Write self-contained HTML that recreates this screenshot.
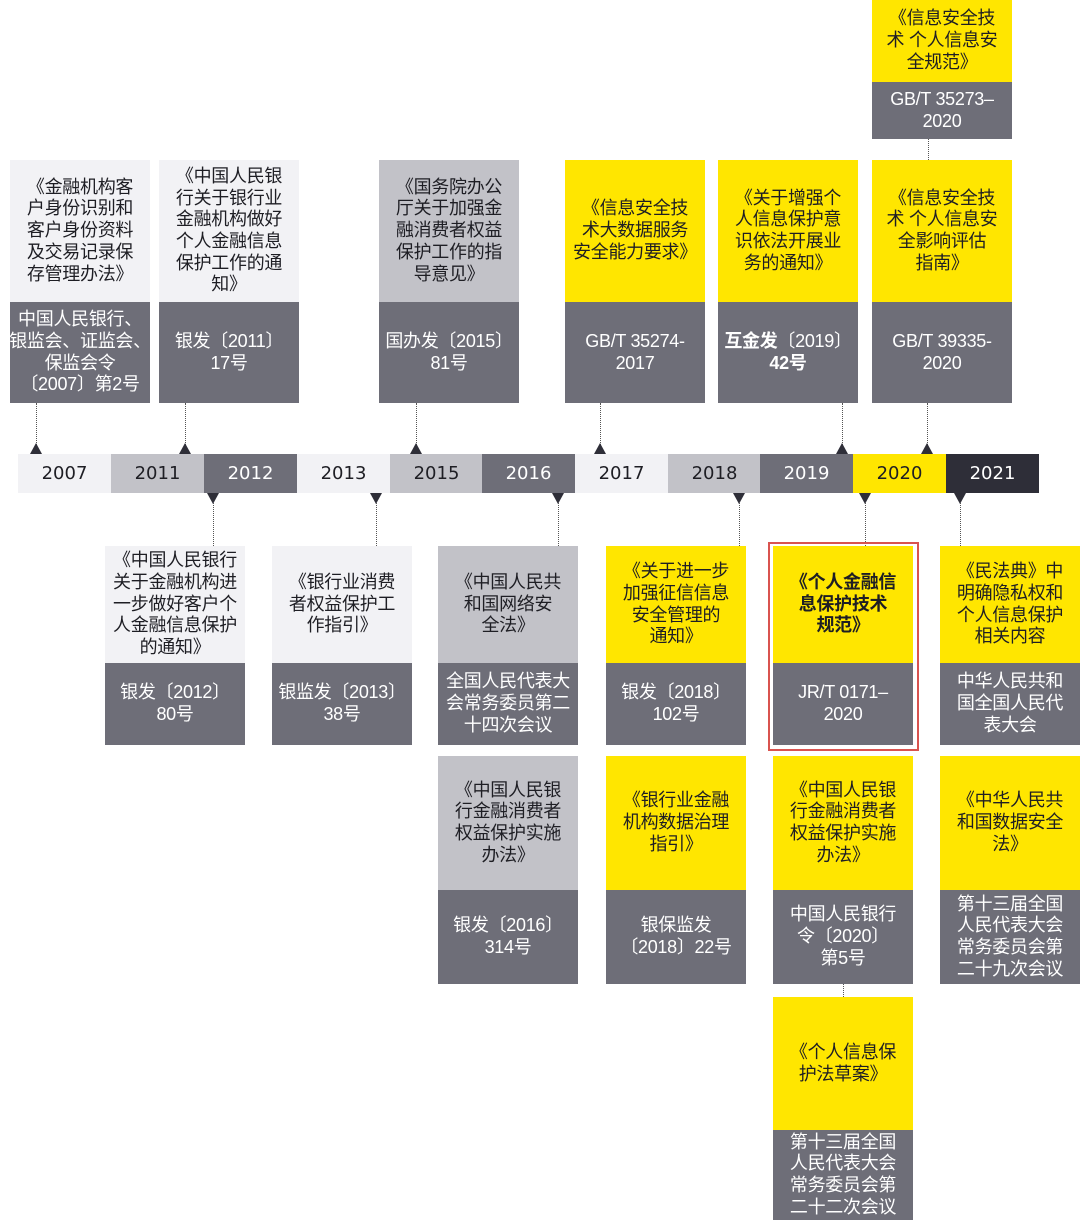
<!DOCTYPE html>
<html><head><meta charset="utf-8">
<style>
body{margin:0;width:1080px;height:1229px;background:#fff;position:relative;overflow:hidden;font-family:"Liberation Sans","Noto Sans CJK SC",sans-serif;}
.b{position:absolute;display:flex;align-items:center;justify-content:center;text-align:center;font-size:18px;line-height:21.7px;box-sizing:border-box;white-space:nowrap;letter-spacing:-0.3px}
.l{background:#f2f2f5;color:#1e1e24}
.m{background:#c2c2c8;color:#1e1e24}
.y{background:#ffe600;color:#1e1e24}
.d{background:#6e6e78;color:#fff}
.k{background:#2e2e38;color:#fff}
.yr{position:absolute;top:454px;height:39px;width:93px;display:flex;align-items:center;justify-content:center;font-size:18px;font-family:"DejaVu Sans",sans-serif;}
.v{position:absolute;width:0;border-left:1.5px dotted #555;}
.up{position:absolute;width:0;height:0;border-left:6px solid transparent;border-right:6px solid transparent;border-bottom:11px solid #2e2e38;}
.dn{position:absolute;width:0;height:0;border-left:6px solid transparent;border-right:6px solid transparent;border-top:11px solid #2e2e38;}
</style></head><body>

<div class="yr l" style="left:18px">2007</div>
<div class="yr m" style="left:111px">2011</div>
<div class="yr d" style="left:204px">2012</div>
<div class="yr l" style="left:297px">2013</div>
<div class="yr m" style="left:390px">2015</div>
<div class="yr d" style="left:482px">2016</div>
<div class="yr l" style="left:575px">2017</div>
<div class="yr m" style="left:668px">2018</div>
<div class="yr d" style="left:760px">2019</div>
<div class="yr y" style="left:853px">2020</div>
<div class="yr k" style="left:946px">2021</div>

<div class="v" style="left:36px;top:403px;height:42px"></div><div class="up" style="left:30px;top:443px"></div>
<div class="v" style="left:185px;top:403px;height:42px"></div><div class="up" style="left:179px;top:443px"></div>
<div class="v" style="left:416px;top:403px;height:42px"></div><div class="up" style="left:410px;top:443px"></div>
<div class="v" style="left:600px;top:403px;height:42px"></div><div class="up" style="left:594px;top:443px"></div>
<div class="v" style="left:842px;top:403px;height:42px"></div><div class="up" style="left:836px;top:443px"></div>
<div class="v" style="left:927px;top:403px;height:42px"></div><div class="up" style="left:921px;top:443px"></div>
<div class="v" style="left:928px;top:139px;height:21px"></div>

<div class="dn" style="left:207px;top:493px"></div><div class="v" style="left:213px;top:503px;height:43px"></div>
<div class="dn" style="left:370px;top:493px"></div><div class="v" style="left:376px;top:503px;height:43px"></div>
<div class="dn" style="left:552px;top:493px"></div><div class="v" style="left:558px;top:503px;height:43px"></div>
<div class="dn" style="left:733px;top:493px"></div><div class="v" style="left:739px;top:503px;height:43px"></div>
<div class="dn" style="left:859px;top:493px"></div><div class="v" style="left:865px;top:503px;height:43px"></div>
<div class="dn" style="left:954px;top:493px"></div><div class="v" style="left:960px;top:503px;height:43px"></div>
<div class="v" style="left:843px;top:984px;height:13px"></div>

<div class="b l" style="left:10px;top:160px;width:140px;height:142px">《金融机构客<br>户身份识别和<br>客户身份资料<br>及交易记录保<br>存管理办法》</div>
<div class="b d" style="left:10px;top:302px;width:140px;height:101px">中国人民银行、<br>银监会、证监会、<br>保监会令<br>〔2007〕第2号</div>

<div class="b l" style="left:159px;top:160px;width:140px;height:142px">《中国人民银<br>行关于银行业<br>金融机构做好<br>个人金融信息<br>保护工作的通<br>知》</div>
<div class="b d" style="left:159px;top:302px;width:140px;height:101px">银发〔2011〕<br>17号</div>

<div class="b m" style="left:379px;top:160px;width:140px;height:142px">《国务院办公<br>厅关于加强金<br>融消费者权益<br>保护工作的指<br>导意见》</div>
<div class="b d" style="left:379px;top:302px;width:140px;height:101px">国办发〔2015〕<br>81号</div>

<div class="b y" style="left:565px;top:160px;width:140px;height:142px">《信息安全技<br>术大数据服务<br>安全能力要求》</div>
<div class="b d" style="left:565px;top:302px;width:140px;height:101px">GB/T 35274-<br>2017</div>

<div class="b y" style="left:718px;top:160px;width:140px;height:142px">《关于增强个<br>人信息保护意<br>识依法开展业<br>务的通知》</div>
<div class="b d" style="left:718px;top:302px;width:140px;height:101px"><span><b>互金发</b>〔2019〕<br><b>42号</b></span></div>

<div class="b y" style="left:872px;top:160px;width:140px;height:142px">《信息安全技<br>术 个人信息安<br>全影响评估<br>指南》</div>
<div class="b d" style="left:872px;top:302px;width:140px;height:101px">GB/T 39335-<br>2020</div>

<div class="b y" style="left:872px;top:0px;width:140px;height:82px">《信息安全技<br>术 个人信息安<br>全规范》</div>
<div class="b d" style="left:872px;top:82px;width:140px;height:57px">GB/T 35273–<br>2020</div>

<div class="b l" style="left:105px;top:546px;width:140px;height:117px">《中国人民银行<br>关于金融机构进<br>一步做好客户个<br>人金融信息保护<br>的通知》</div>
<div class="b d" style="left:105px;top:663px;width:140px;height:82px">银发〔2012〕<br>80号</div>

<div class="b l" style="left:272px;top:546px;width:140px;height:117px">《银行业消费<br>者权益保护工<br>作指引》</div>
<div class="b d" style="left:272px;top:663px;width:140px;height:82px">银监发〔2013〕<br>38号</div>

<div class="b m" style="left:438px;top:546px;width:140px;height:117px">《中国人民共<br>和国网络安<br>全法》</div>
<div class="b d" style="left:438px;top:663px;width:140px;height:82px">全国人民代表大<br>会常务委员第二<br>十四次会议</div>
<div class="b m" style="left:438px;top:756px;width:140px;height:134px">《中国人民银<br>行金融消费者<br>权益保护实施<br>办法》</div>
<div class="b d" style="left:438px;top:890px;width:140px;height:94px">银发〔2016〕<br>314号</div>

<div class="b y" style="left:606px;top:546px;width:140px;height:117px">《关于进一步<br>加强征信信息<br>安全管理的<br>通知》</div>
<div class="b d" style="left:606px;top:663px;width:140px;height:82px">银发〔2018〕<br>102号</div>
<div class="b y" style="left:606px;top:756px;width:140px;height:134px">《银行业金融<br>机构数据治理<br>指引》</div>
<div class="b d" style="left:606px;top:890px;width:140px;height:94px">银保监发<br>〔2018〕22号</div>

<div style="position:absolute;left:768px;top:542px;width:151px;height:209px;border:2.5px solid #d9534f;box-sizing:border-box"></div>
<div class="b y" style="left:773px;top:546px;width:140px;height:117px;font-weight:bold">《个人金融信<br>息保护技术<br>规范》</div>
<div class="b d" style="left:773px;top:663px;width:140px;height:82px">JR/T 0171–<br>2020</div>
<div class="b y" style="left:773px;top:756px;width:140px;height:134px">《中国人民银<br>行金融消费者<br>权益保护实施<br>办法》</div>
<div class="b d" style="left:773px;top:890px;width:140px;height:94px">中国人民银行<br>令〔2020〕<br>第5号</div>
<div class="b y" style="left:773px;top:997px;width:140px;height:133px">《个人信息保<br>护法草案》</div>
<div class="b d" style="left:773px;top:1130px;width:140px;height:90px">第十三届全国<br>人民代表大会<br>常务委员会第<br>二十二次会议</div>

<div class="b y" style="left:940px;top:546px;width:140px;height:117px">《民法典》中<br>明确隐私权和<br>个人信息保护<br>相关内容</div>
<div class="b d" style="left:940px;top:663px;width:140px;height:82px">中华人民共和<br>国全国人民代<br>表大会</div>
<div class="b y" style="left:940px;top:756px;width:140px;height:134px">《中华人民共<br>和国数据安全<br>法》</div>
<div class="b d" style="left:940px;top:890px;width:140px;height:94px">第十三届全国<br>人民代表大会<br>常务委员会第<br>二十九次会议</div>

</body></html>
